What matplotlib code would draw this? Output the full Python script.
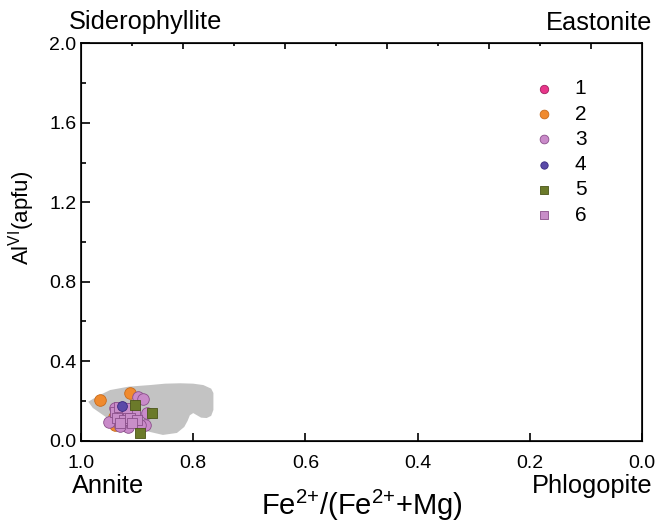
import matplotlib
matplotlib.use("Agg")
import matplotlib.pyplot as plt
from matplotlib.ticker import MultipleLocator

plt.rcParams['font.family'] = ['Liberation Sans', 'DejaVu Sans']
plt.rcParams['mathtext.fontset'] = 'custom'
plt.rcParams['mathtext.rm'] = 'Liberation Sans'
plt.rcParams['mathtext.it'] = 'Liberation Sans'

# ---- data (Fe2+/(Fe2+ + Mg), Al VI) ----
field_x = [0.987, 0.970, 0.948, 0.915, 0.877, 0.850, 0.823, 0.800, 0.782, 0.768, 0.764,
           0.764, 0.768, 0.776, 0.786, 0.800, 0.806, 0.810, 0.816, 0.829, 0.854, 0.877,
           0.912, 0.948, 0.979]
field_y = [0.196, 0.225, 0.255, 0.272, 0.280, 0.287, 0.289, 0.287, 0.280, 0.262, 0.240,
           0.155, 0.125, 0.114, 0.116, 0.139, 0.128, 0.100, 0.069, 0.039, 0.029, 0.044,
           0.069, 0.104, 0.165]

s1_x = [0.920]
s1_y = [0.120]
s2_x = [0.966, 0.912, 0.942, 0.939]
s2_y = [0.205, 0.242, 0.121, 0.079]
s3_x = [0.898, 0.890, 0.951, 0.883, 0.886, 0.916, 0.895, 0.939, 0.904, 0.921, 0.930]
s3_y = [0.221, 0.212, 0.096, 0.139, 0.079, 0.070, 0.079, 0.165, 0.104, 0.129, 0.076]
s4_x = [0.927]
s4_y = [0.175]
s5_x = [0.904, 0.874, 0.895]
s5_y = [0.180, 0.141, 0.037]
s6_x = [0.939, 0.927, 0.916, 0.904, 0.936, 0.924, 0.912, 0.900, 0.930, 0.909, 0.933, 0.918]
s6_y = [0.146, 0.138, 0.138, 0.138, 0.113, 0.104, 0.113, 0.104, 0.088, 0.088, 0.168, 0.163]

series_labels = ['1', '2', '3', '4', '5', '6']
x_ticks = [1.0, 0.8, 0.6, 0.4, 0.2, 0.0]
y_ticks = [0.0, 0.4, 0.8, 1.2, 1.6, 2.0]

fig = plt.figure(figsize=(6.56, 5.30), dpi=100)
ax = fig.add_axes([0.1235, 0.1685, 0.8552, 0.7498])

ax.fill(field_x, field_y, color='#c3c3c3', lw=0, zorder=1)

edge = '#8a4f8a'
h1 = ax.scatter(s1_x, s1_y, s=65, marker='o', c='#e8368a', edgecolors='#a02060', linewidths=0.6, zorder=3)
h2 = ax.scatter(s2_x, s2_y, s=70, marker='o', c='#f08a2e', edgecolors='#c86a1a', linewidths=0.6, zorder=3)
h3 = ax.scatter(s3_x, s3_y, s=70, marker='o', c='#c98ac9', edgecolors=edge, linewidths=0.6, zorder=4)
h6 = ax.scatter(s6_x, s6_y, s=62, marker='s', c='#c98ec9', edgecolors=edge, linewidths=0.6, zorder=5)
h4 = ax.scatter(s4_x, s4_y, s=50, marker='o', c='#5a4aa8', edgecolors='#3a2a80', linewidths=0.6, zorder=6)
h5 = ax.scatter(s5_x, s5_y, s=62, marker='s', c='#6b7a2a', edgecolors='#4a5518', linewidths=0.6, zorder=7)

ax.set_xlim(1.0, 0.0)
ax.set_ylim(0.0, 2.0)
ax.set_xticks(x_ticks)
ax.set_xticklabels([f'{v:.1f}' for v in x_ticks])
ax.set_yticks(y_ticks)
ax.set_yticklabels([f'{v:.1f}' for v in y_ticks])
ax.yaxis.set_minor_locator(MultipleLocator(0.2))

for sp in ax.spines.values():
    sp.set_linewidth(1.2)
ax.tick_params(axis='x', which='major', direction='in', length=6, width=1.2,
               labelsize=14, pad=10, top=False)
ax.tick_params(axis='y', which='major', direction='in', length=6.5, width=1.2,
               labelsize=14, pad=3.5, right=False)
ax.tick_params(axis='y', which='minor', direction='in', length=3.5, width=1.2, right=False)

# top axis ticks
axt = ax.twiny()
axt.set_xlim(0, 11)
axt.set_xticks([2, 4, 6, 8, 10])
axt.set_xticks([1, 3, 5, 7, 9], minor=True)
axt.tick_params(axis='x', which='major', direction='in', length=4, width=1.2, labeltop=False)
axt.tick_params(axis='x', which='minor', direction='in', length=2, width=1.2)

leg = ax.legend([h1, h2, h3, h4, h5, h6], series_labels, loc='upper left',
                bbox_to_anchor=(0.791, 0.93), frameon=False, fontsize=15,
                markerscale=0.75, handlelength=1.0, handletextpad=1.0,
                labelspacing=0.3, borderaxespad=0)

ax.set_xlabel('Fe$^{2{+}}$/(Fe$^{2{+}}$+Mg)', fontsize=21)
ax.xaxis.set_label_coords(0.5, -0.163)
ax.xaxis.label.set_va('center')
ax.set_ylabel('Al$^{\\rm VI}$(apfu)', fontsize=16)
ax.yaxis.set_label_coords(-0.078, 0.561)

fig.text(146/656, 1-22/530, 'Siderophyllite', fontsize=18.3, ha='center', va='center')
fig.text(652/656, 1-23/530, 'Eastonite', fontsize=18.3, ha='right', va='center')
fig.text(72/656, 1-486/530, 'Annite', fontsize=18.3, ha='left', va='center')
fig.text(652/656, 1-486/530, 'Phlogopite', fontsize=18.3, ha='right', va='center')

fig.savefig('out.png', dpi=100)
